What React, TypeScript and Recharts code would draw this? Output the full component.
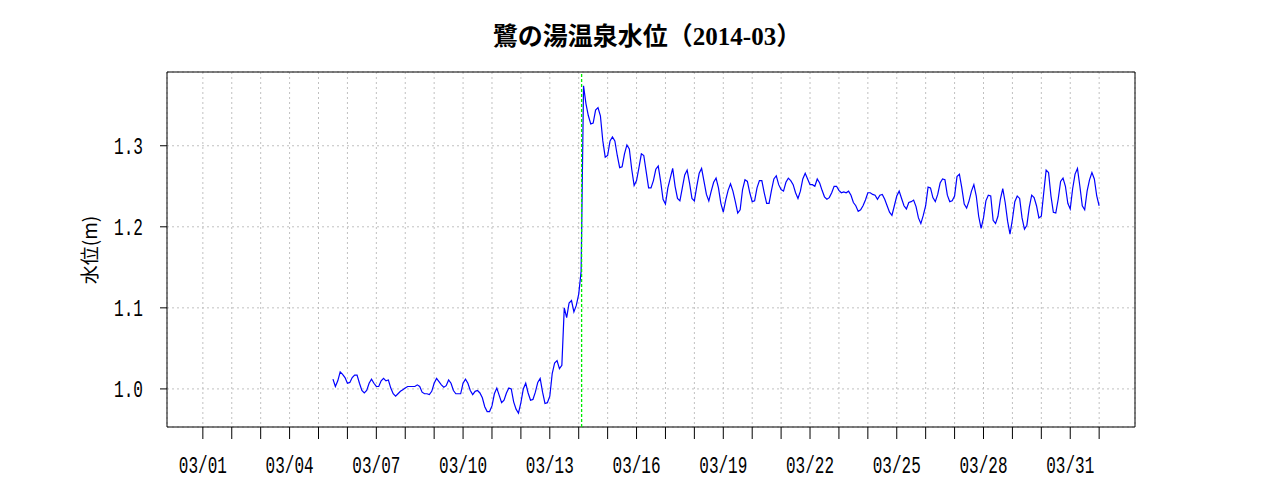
import {
  LineChart,
  Line,
  XAxis,
  YAxis,
  CartesianGrid,
  ReferenceLine,
  ReferenceArea,
} from 'recharts';

// water level (m), one reading every 2 hours, first one at 03/05 12:00
const START_HOUR = 108;
const STEP_HOURS = 2;

const level0305to0310 = [
  1.012, 1.003, 1.010, 1.021, 1.018, 1.014, 1.007, 1.008, 1.014, 1.017, 1.017, 1.007,
  0.998, 0.995, 0.998, 1.007, 1.012, 1.007, 1.003, 1.003, 1.010, 1.013, 1.010, 1.011,
  1.001, 0.994, 0.991, 0.994, 0.997, 0.999, 1.001, 1.003, 1.003, 1.003, 1.003, 1.005,
  1.003, 0.996, 0.994, 0.994, 0.993, 0.997, 1.007, 1.013, 1.009, 1.005, 1.002, 1.004,
  1.011, 1.007, 0.998, 0.994, 0.994, 0.994, 1.007, 1.012, 1.007, 0.998, 0.993, 0.997,
  0.998, 0.995, 0.989, 0.978, 0.972,
];

const level0310to0316 = [
  0.972, 0.979, 0.994, 1.001, 0.992, 0.983, 0.986, 0.995, 1.001, 1.000, 0.984, 0.975,
  0.970, 0.983, 1.000, 1.007, 0.995, 0.986, 0.987, 0.996, 1.008, 1.013, 0.996, 0.982,
  0.983, 0.991, 1.019, 1.032, 1.035, 1.025, 1.029, 1.100, 1.088, 1.106, 1.109, 1.095,
  1.103, 1.117, 1.145, 1.374, 1.352, 1.337, 1.327, 1.328, 1.344, 1.347, 1.337, 1.306,
  1.286, 1.288, 1.306, 1.311, 1.306, 1.288, 1.273, 1.274, 1.290, 1.301, 1.296, 1.271,
  1.251, 1.257, 1.273, 1.290, 1.288,
];

const level0316to0321 = [
  1.268, 1.248, 1.248, 1.257, 1.271, 1.275, 1.256, 1.234, 1.228, 1.248, 1.260, 1.272,
  1.250, 1.235, 1.232, 1.248, 1.264, 1.270, 1.254, 1.235, 1.232, 1.250, 1.266, 1.272,
  1.256, 1.240, 1.232, 1.244, 1.255, 1.260, 1.248, 1.229, 1.218, 1.233, 1.245, 1.253,
  1.244, 1.231, 1.217, 1.221, 1.246, 1.258, 1.256, 1.242, 1.231, 1.232, 1.248, 1.257,
  1.257, 1.242, 1.229, 1.229, 1.245, 1.259, 1.263, 1.252, 1.246, 1.244, 1.255, 1.260,
  1.257, 1.252, 1.242, 1.235, 1.244,
];

const level0321to0327 = [
  1.259, 1.266, 1.259, 1.252, 1.252, 1.250, 1.259, 1.254, 1.245, 1.237, 1.234, 1.236,
  1.242, 1.250, 1.250, 1.245, 1.242, 1.243, 1.242, 1.244, 1.239, 1.230, 1.226, 1.219,
  1.221, 1.226, 1.233, 1.242, 1.242, 1.240, 1.239, 1.234, 1.239, 1.240, 1.234, 1.226,
  1.218, 1.214, 1.226, 1.238, 1.244, 1.235, 1.226, 1.222, 1.230, 1.231, 1.233, 1.225,
  1.211, 1.204, 1.214, 1.226, 1.249, 1.248, 1.236, 1.231, 1.240, 1.254, 1.259, 1.258,
  1.239, 1.231, 1.232, 1.238, 1.262, 1.265,
];

const level0327to0401 = [
  1.248, 1.228, 1.223, 1.232, 1.244, 1.252, 1.238, 1.213, 1.198, 1.211, 1.232, 1.239,
  1.238, 1.208, 1.204, 1.213, 1.234, 1.247, 1.230, 1.207, 1.191, 1.209, 1.231, 1.238,
  1.235, 1.211, 1.197, 1.202, 1.224, 1.239, 1.236, 1.226, 1.211, 1.213, 1.242, 1.270,
  1.267, 1.238, 1.218, 1.217, 1.234, 1.256, 1.260, 1.250, 1.229, 1.222, 1.247, 1.265,
  1.272, 1.250, 1.226, 1.221, 1.244, 1.258, 1.267, 1.259, 1.238, 1.226,
];

// days since 03/01 00:00
const dayTicks = Array.from({ length: 32 }, (_, i) => i);
const labelDays = [0, 3, 6, 9, 12, 15, 18, 21, 24, 27, 30];
const dayLabels = ['03/01', '03/04', '03/07', '03/10', '03/13', '03/16', '03/19', '03/22', '03/25', '03/28', '03/31'];
const levelTicks = [1.0, 1.1, 1.2, 1.3];
const quakeDay = 13.1;

const xDomain = [-1.24, 32.24];
const yDomain = [0.953, 1.391];

const levels = [
  ...level0305to0310,
  ...level0310to0316,
  ...level0316to0321,
  ...level0321to0327,
  ...level0327to0401,
];
const data = levels.map((v, i) => ({ t: (START_HOUR + i * STEP_HOURS) / 24, v }));

const tickFont = "'Liberation Mono', monospace";

function DayTick(props: any) {
  const { x, y, payload } = props;
  const idx = labelDays.indexOf(payload.value);
  if (idx < 0) return null;
  const label = dayLabels[idx];
  return (
    <text
      x={x}
      y={y + 32}
      textAnchor="middle"
      fontFamily={tickFont}
      fontSize={23}
      fill="#000"
      textLength={48}
      lengthAdjust="spacingAndGlyphs"
    >
      {label}
    </text>
  );
}

function LevelTick(props: any) {
  const { x, y, payload } = props;
  const label = Number(payload.value).toFixed(1);
  return (
    <text
      x={x - 15}
      y={y + 8}
      textAnchor="end"
      fontFamily={tickFont}
      fontSize={23}
      fill="#000"
      textLength={29}
      lengthAdjust="spacingAndGlyphs"
    >
      {label}
    </text>
  );
}

export default function App() {
  return (
    <div style={{ position: 'absolute', left: 0, top: 0, width: 1280, height: 500, background: '#fff' }}>
      <LineChart
        width={1280}
        height={500}
        data={data}
        margin={{ top: 72, right: 145, bottom: 0, left: 0 }}
      >
        <CartesianGrid stroke="#c0c0c0" strokeDasharray="2 3" />
        <XAxis
          dataKey="t"
          type="number"
          domain={xDomain}
          allowDataOverflow
          ticks={dayTicks}
          interval={0}
          height={73}
          tickSize={12}
          axisLine={false}
          tickLine={{ stroke: '#000' }}
          tick={<DayTick />}
        />
        <YAxis
          type="number"
          domain={yDomain}
          allowDataOverflow
          ticks={levelTicks}
          interval={0}
          width={167}
          tickSize={7}
          axisLine={false}
          tickLine={{ stroke: '#000' }}
          tick={<LevelTick />}
        />
        <Line
          dataKey="v"
          type="linear"
          stroke="#0000ff"
          strokeWidth={1.2}
          dot={false}
          isAnimationActive={false}
        />
        <ReferenceLine x={quakeDay} stroke="#00ee00" strokeWidth={1.3} strokeDasharray="3 2" />
        <ReferenceArea
          x1={xDomain[0]}
          x2={xDomain[1]}
          y1={yDomain[0]}
          y2={yDomain[1]}
          fill="none"
          stroke="#000"
          strokeWidth={1}
        />
      </LineChart>
      <svg
        width={1280}
        height={500}
        style={{ position: 'absolute', left: 0, top: 0, pointerEvents: 'none' }}
      >
        <text
          x={647}
          y={45}
          textAnchor="middle"
          fontFamily="'Liberation Serif', 'Noto Sans CJK JP', serif"
          fontWeight="bold"
          fontSize={25}
          fill="#000"
        >
          鷺の湯温泉水位（2014-03）
        </text>
        <text
          transform="translate(97, 250) rotate(-90)"
          textAnchor="middle"
          fontFamily="'Noto Sans CJK JP', sans-serif"
          fontSize={19}
          fill="#000"
        >
          水位(m)
        </text>
      </svg>
    </div>
  );
}
